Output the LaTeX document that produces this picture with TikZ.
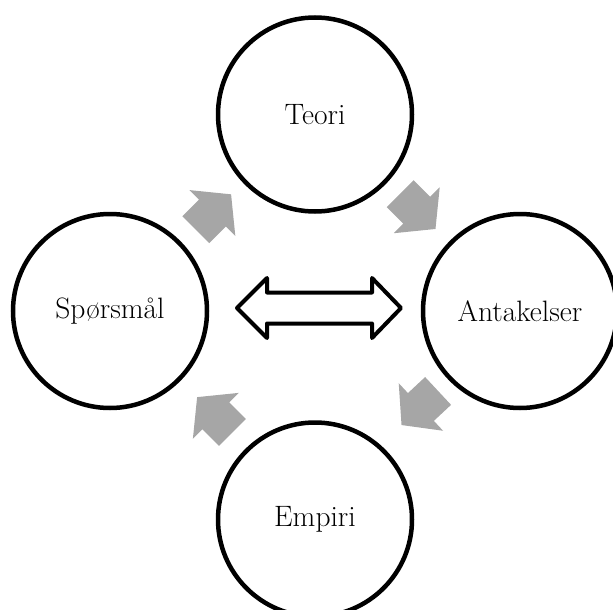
\documentclass[tikz,border=0pt]{standalone}
\usetikzlibrary{calc}
\definecolor{cyclegray}{RGB}{166,166,166}
\tikzset{
  stage/.style={circle, draw=black, line width=4.5pt, fill=white,
    minimum size=194pt, inner sep=0pt,
    font=\fontsize{29.5}{34}\selectfont},
  flow/.style={fill=cyclegray, draw=none},
  link/.style={draw=black, line width=4pt, line join=round, fill=white},
  pics/cyclearrow/.style={code={
    \path[flow] (-25,-19) -- (-1.5,-19) -- (-1.5,-32.5) -- (25,0)
      -- (-1.5,32.5) -- (-1.5,19) -- (-25,19) -- cycle;
  }}
}
\begin{document}
\begin{tikzpicture}[x=1pt, y=-1pt]
  \useasboundingbox (0,0) rectangle (613,610);
  \clip (0,0) rectangle (613,610);

  % the four stages of the cycle
  \node[stage] (teori) at (315,114.5) {Teori};
  \node[stage] (antakelser) at (520,311) {Antakelser};
  \node[stage] (empiri) at (315,519.5) {Empiri};
  \node[stage] (sporsmal) at (110,311) {Spørsmål};

  % gray arrows leading round the cycle
  \pic[rotate=45] at (213.4,212) {cyclearrow};
  \pic[rotate=-45] at (417.8,211.3) {cyclearrow};
  \pic[rotate=-137] at (419.8,408) {cyclearrow};
  \pic[rotate=135] at (214.8,414.8) {cyclearrow};

  % two-way arrow between question and assumptions
  \coordinate (lt) at (237,308);
  \coordinate (rt) at (401,308);
  \path[link] (lt) -- (267,278) -- (267,292.5) -- (372,292.5) -- (372,278)
    -- (rt) -- (372,338) -- (372,323.5) -- (267,323.5) -- (267,338) -- cycle;
\end{tikzpicture}
\end{document}
